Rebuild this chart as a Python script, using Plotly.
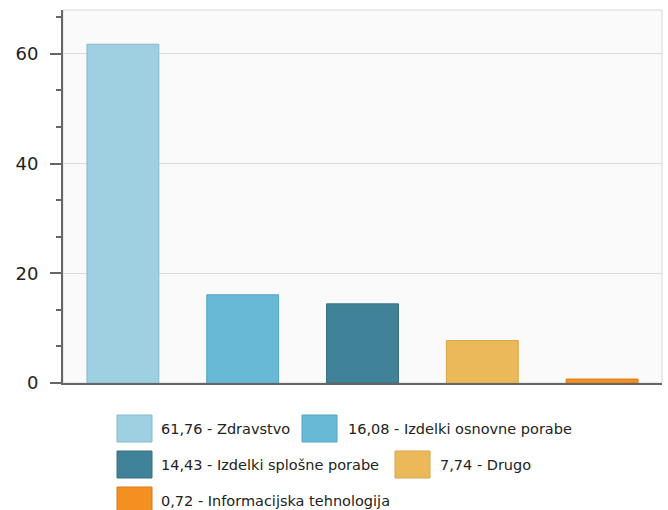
import plotly.graph_objects as go

categories = ["Zdravstvo", "Izdelki osnovne porabe", "Izdelki splošne porabe", "Drugo", "Informacijska tehnologija"]
values = [61.76, 16.08, 14.43, 7.74, 0.72]
value_labels = ["61,76", "16,08", "14,43", "7,74", "0,72"]
fill_colors = ["#9fd0e2", "#68b9d6", "#408298", "#ebb95a", "#f39022"]
line_colors = ["#86b9cc", "#56a3c0", "#366f82", "#d9a548", "#d9791a"]
y_ticks = [0, 20, 40, 60]

W, H = 668, 510
ML, MR, MT, MB = 63, 6, 10, 127
PW, PH = W - ML - MR, H - MT - MB

def px_x(x):
    return (x - ML) / PW

def px_y(y):
    return (H - MB - y) / PH

fig = go.Figure()
fig.add_trace(go.Bar(
    x=categories, y=values,
    marker=dict(color=fill_colors, line=dict(color=line_colors, width=1)),
    width=0.6, hoverinfo="x+y", showlegend=False,
))

shapes = [
    dict(type="rect", xref="paper", yref="paper", x0=0, x1=1, y0=0, y1=1.0,
         line=dict(color="#d6d6d6", width=1), fillcolor="rgba(0,0,0,0)", layer="below"),
]
annotations = []

# legend layout (pixel positions of squares: left, top; text left)
legend_pos = [
    (117, 415, 159),
    (302, 415, 346),
    (117, 451, 159),
    (395, 451, 438),
    (117, 487, 159),
]
SQW, SQH = 35, 27
for i, (sx, sy, tx) in enumerate(legend_pos):
    shapes.append(dict(type="rect", xref="paper", yref="paper",
                       x0=px_x(sx), x1=px_x(sx + SQW), y0=px_y(sy + SQH), y1=px_y(sy),
                       fillcolor=fill_colors[i], line=dict(color=line_colors[i], width=1)))
    annotations.append(dict(xref="paper", yref="paper", x=px_x(tx), y=px_y(sy + SQH / 2),
                            xanchor="left", yanchor="middle", showarrow=False,
                            text=f"{value_labels[i]} - {categories[i]}",
                            font=dict(family="DejaVu Sans", size=14.5, color="#222")))

fig.update_layout(
    width=W, height=H,
    margin=dict(l=ML, r=MR, t=MT, b=MB, pad=0),
    paper_bgcolor="white",
    plot_bgcolor="#fafafa",
    shapes=shapes,
    annotations=annotations,
    bargap=0.4,
    xaxis=dict(type="category", showticklabels=False, ticks="", showgrid=False,
               showline=True, linecolor="#666", linewidth=2, zeroline=False, fixedrange=True),
    yaxis=dict(range=[0, 68], tickvals=y_ticks, ticks="outside", ticklen=11, tickwidth=1.5,
               tickcolor="#666", showline=True, linecolor="#666", linewidth=2,
               showgrid=True, gridcolor="#dcdcdc", gridwidth=1, zeroline=False,
               ticklabelstandoff=8,
               tickfont=dict(family="DejaVu Sans", size=18, color="#222"),
               minor=dict(dtick=20 / 3, tick0=0, ticks="outside", ticklen=5, tickcolor="#666",
                          tickwidth=1.5, showgrid=False)),
)

fig.write_html("out.html", config={"displayModeBar": False},
               post_script="document.body.style.margin='0px';document.body.style.overflow='hidden';")
